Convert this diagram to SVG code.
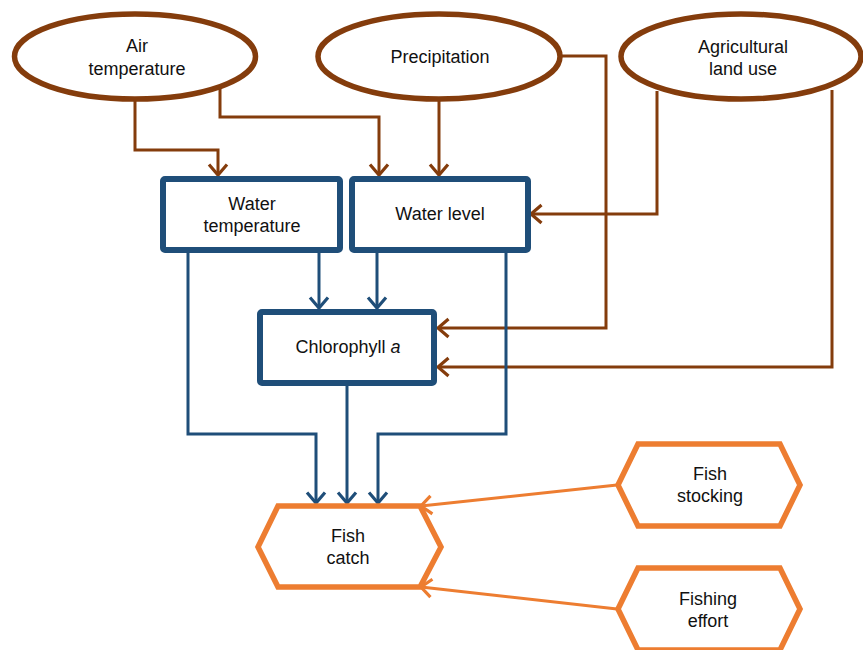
<svg xmlns="http://www.w3.org/2000/svg" width="863" height="650" viewBox="0 0 863 650">
<style>
text{font-family:"Liberation Sans",Arial,sans-serif;font-size:18px;fill:#111;text-anchor:middle}
.ell{fill:#fff;stroke:#843C0C;stroke-width:5.5}
.box{fill:#fff;stroke:#1F4E79;stroke-width:6}
.hex{fill:#fff;stroke:#ED7D31;stroke-width:5.5;stroke-linejoin:miter}
.cb{fill:none;stroke:#843C0C;stroke-width:3}
.cu{fill:none;stroke:#1F4E79;stroke-width:3}
.co{fill:none;stroke:#ED7D31;stroke-width:3}
</style>
<defs>
<marker id="ab" markerUnits="userSpaceOnUse" markerWidth="26" markerHeight="26" refX="0" refY="0" viewBox="-14 -13 18 26" orient="auto"><path d="M-10.5,-9 L0,0 L-10.5,9" fill="none" stroke="#843C0C" stroke-width="3.2"/></marker>
<marker id="au" markerUnits="userSpaceOnUse" markerWidth="26" markerHeight="26" refX="0" refY="0" viewBox="-14 -13 18 26" orient="auto"><path d="M-10.5,-9 L0,0 L-10.5,9" fill="none" stroke="#1F4E79" stroke-width="3.2"/></marker>
<marker id="ao" markerUnits="userSpaceOnUse" markerWidth="26" markerHeight="26" refX="0" refY="0" viewBox="-14 -13 18 26" orient="auto"><path d="M-10.5,-9 L0,0 L-10.5,9" fill="none" stroke="#ED7D31" stroke-width="3.2"/></marker>
</defs>
<g id="connectors">
<path class="cb" d="M135,101 V150 H218 V175" marker-end="url(#ab)"/>
<path class="cb" d="M220,88 V117 H379 V175" marker-end="url(#ab)"/>
<path class="cb" d="M439,101 V175" marker-end="url(#ab)"/>
<path class="cb" d="M562,56 H606 V328 H438" marker-end="url(#ab)"/>
<path class="cb" d="M657,91 V214 H531" marker-end="url(#ab)"/>
<path class="cb" d="M832,90 V367 H438" marker-end="url(#ab)"/>
<path class="cu" d="M188,253 V434 H316 V503" marker-end="url(#au)"/>
<path class="cu" d="M319,253 V308" marker-end="url(#au)"/>
<path class="cu" d="M377,253 V308" marker-end="url(#au)"/>
<path class="cu" d="M506,253 V434 H378 V503" marker-end="url(#au)"/>
<path class="cu" d="M347,386 V503" marker-end="url(#au)"/>
<path class="co" d="M617,485 L421,506" marker-end="url(#ao)"/>
<path class="co" d="M617,609 L421,587" marker-end="url(#ao)"/>
</g>
<g id="air-temperature">
<ellipse class="ell" cx="135" cy="56.5" rx="120.5" ry="42.5"/>
<text x="137" y="52">Air</text>
<text x="137" y="75">temperature</text>
</g>
<g id="precipitation">
<ellipse class="ell" cx="439" cy="56.5" rx="121" ry="42.5"/>
<text x="440" y="63">Precipitation</text>
</g>
<g id="agricultural-land-use">
<ellipse class="ell" cx="741" cy="56.5" rx="120" ry="42.5"/>
<text x="743" y="53">Agricultural</text>
<text x="743" y="75">land use</text>
</g>
<g id="water-temperature">
<rect class="box" x="163" y="179" width="177" height="71" rx="2"/>
<text x="252" y="210">Water</text>
<text x="252" y="232">temperature</text>
</g>
<g id="water-level">
<rect class="box" x="352" y="179" width="176" height="71" rx="2"/>
<text x="440" y="220">Water level</text>
</g>
<g id="chlorophyll-a">
<rect class="box" x="260" y="312" width="174" height="71" rx="2"/>
<text x="348" y="353">Chlorophyll <tspan font-style="italic">a</tspan></text>
</g>
<g id="fish-catch">
<polygon class="hex" points="258,547 278,506 420,506 441,547 420,587 278,587"/>
<text x="348" y="542">Fish</text>
<text x="348" y="564">catch</text>
</g>
<g id="fish-stocking">
<polygon class="hex" points="618,485 638,444 780,444 800,485 780,526 638,526"/>
<text x="710" y="480">Fish</text>
<text x="710" y="502">stocking</text>
</g>
<g id="fishing-effort">
<polygon class="hex" points="618,609 638,568 780,568 800,609 780,650 638,650"/>
<text x="708" y="605">Fishing</text>
<text x="708" y="627">effort</text>
</g>
</svg>
